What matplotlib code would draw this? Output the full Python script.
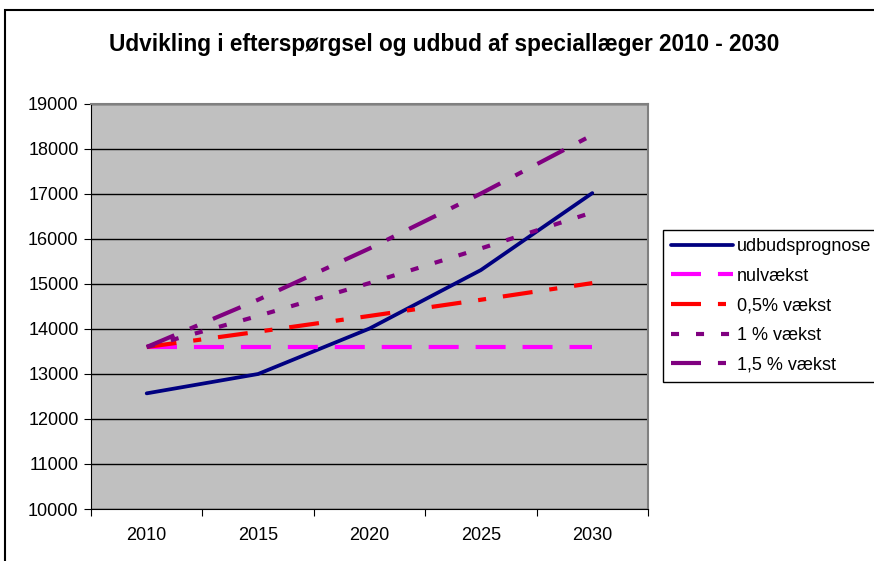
import matplotlib.pyplot as plt
from matplotlib.patches import Rectangle
from matplotlib.ticker import FixedLocator, NullFormatter

plt.rcParams['font.family'] = ['Liberation Sans', 'DejaVu Sans']
plt.rcParams['lines.scale_dashes'] = False

years = ['2010', '2015', '2020', '2025', '2030']
udbud = [12570, 13000, 14010, 15310, 17020]
nulvaekst = [13600, 13600, 13600, 13600, 13600]
vaekst_05 = [13600, 13940, 14290, 14650, 15020]
vaekst_1 = [13600, 14290, 15020, 15790, 16590]
vaekst_15 = [13600, 14650, 15790, 17010, 18310]

fig = plt.figure(figsize=(8.74, 5.61), dpi=100)
ax = fig.add_axes([91/874, 52/561, 557/874, 405/561])
ax.set_facecolor('#C0C0C0')

x = range(len(years))
ax.plot(x, udbud, color='#000080', lw=2.7, solid_capstyle='round', label='udbudsprognose')
ax.plot(x, nulvaekst, color='#FF00FF', lw=3, dashes=(21.6, 12.2), label='nulvækst')
ax.plot(x, vaekst_05, color='#FF0000', lw=3, dashes=(21.6, 12.2, 5.8, 12.2), label='0,5% vækst')
ax.plot(x, vaekst_1, color='#800080', lw=3, dashes=(5.8, 12.2), label='1 % vækst')
ax.plot(x, vaekst_15, color='#800080', lw=3, dashes=(21.6, 12.2, 5.8, 12.2), label='1,5 % vækst')

ax.set_ylim(10000, 19000)
ax.set_yticks(range(10000, 19001, 1000))
ax.yaxis.grid(True, color='black', lw=1)
ax.set_axisbelow(True)
ax.tick_params(axis='y', labelsize=13, length=5, direction='out', pad=4)

ax.set_xlim(-0.5, 4.5)
ax.xaxis.set_major_locator(FixedLocator([i - 0.5 for i in range(6)]))
ax.xaxis.set_major_formatter(NullFormatter())
ax.xaxis.set_minor_locator(FixedLocator(list(x)))
ax.set_xticklabels(years, minor=True)
ax.tick_params(axis='x', which='major', length=5, direction='out')
ax.tick_params(axis='x', which='minor', length=0, labelsize=13, pad=13)

for s in ['top', 'right']:
    ax.spines[s].set_color('#808080')
    ax.spines[s].set_linewidth(1.5)
for s in ['left', 'bottom']:
    ax.spines[s].set_color('black')

fig.text(444/874, 1 - 44/561, 'Udvikling i efterspørgsel og udbud af speciallæger 2010 - 2030',
         ha='center', va='center', fontsize=16.3, fontweight='bold')

leg = ax.legend(loc='upper left', bbox_to_anchor=(663/874, 1 - 230/561),
                bbox_transform=fig.transFigure, fontsize=13, handlelength=3.4,
                labelspacing=0.7, borderaxespad=0, fancybox=False, frameon=True,
                edgecolor='black', framealpha=1, handletextpad=0.25, borderpad=0.45)
leg.get_frame().set_linewidth(1)

fig.patches.append(Rectangle((5/874, -0.1), 1.2, 1.1 - 10/561, transform=fig.transFigure,
                             fill=False, edgecolor='black', lw=1.5, clip_on=False))

fig.savefig('out.png', dpi=100)
